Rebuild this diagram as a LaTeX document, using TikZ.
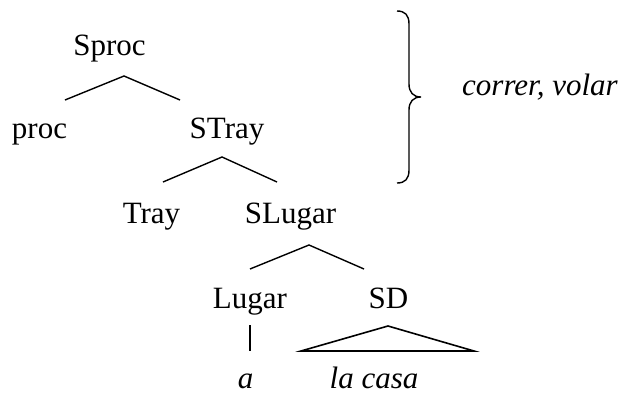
\documentclass[tikz,border=0pt]{standalone}
\usepackage{fontspec}
\setmainfont{Liberation Serif}
\begin{document}
\begin{tikzpicture}[x=1pt,y=-1pt,
  lbl/.style={anchor=base,inner sep=0pt,font=\fontsize{31}{37}\selectfont},
  ital/.style={lbl,font=\fontsize{31}{37}\selectfont\itshape},
  br/.style={line width=1.4pt},
  tri/.style={line width=1.6pt,line join=miter}]
\useasboundingbox (0,0) rectangle (630,394);
% labels
\node[lbl] (sproc) at (109.5,55) {Sproc};
\node[lbl] (proc) at (39.5,138) {proc};
\node[lbl] (stray) at (227,138) {STray};
\node[lbl] (tray) at (151.5,223) {Tray};
\node[lbl] (slugar) at (290.5,223) {SLugar};
\node[lbl] (lugar) at (250,308) {Lugar};
\node[lbl] (sd) at (388.5,308) {SD};
\node[ital] (a) at (245.5,388) {a};
\node[ital] (lacasa) at (374,388) {la casa};
\node[ital,anchor=base west] (cv) at (462,95) {correr, volar};
% branch points
\coordinate (b1) at (124,76);
\coordinate (b1l) at (65,100);
\coordinate (b1r) at (180,100);
\coordinate (b2) at (222,157);
\coordinate (b2l) at (163,182);
\coordinate (b2r) at (277,182);
\coordinate (b3) at (309,245);
\coordinate (b3l) at (250,269);
\coordinate (b3r) at (364,269);
\coordinate (v1) at (250,325);
\coordinate (v2) at (250,351);
\coordinate (t0) at (388,326);
\coordinate (tl) at (301,351);
\coordinate (tr) at (474,351);
\draw[br] (b1l) -- (b1) -- (b1r);
\draw[br] (b2l) -- (b2) -- (b2r);
\draw[br] (b3l) -- (b3) -- (b3r);
\draw[br] (v1) -- (v2);
\draw[tri] (tl) -- (t0) -- (tr) -- cycle;
% brace
\coordinate (bt) at (397,11);
\coordinate (bm) at (421,97);
\coordinate (bb) at (397,183);
\draw[br] (bt) .. controls (405,11) and (409,15) .. (409,24)
  -- (409,84) .. controls (409,92) and (413,97) .. (bm)
  .. controls (413,97) and (409,102) .. (409,110)
  -- (409,170) .. controls (409,179) and (405,183) .. (bb);
\end{tikzpicture}
\end{document}
